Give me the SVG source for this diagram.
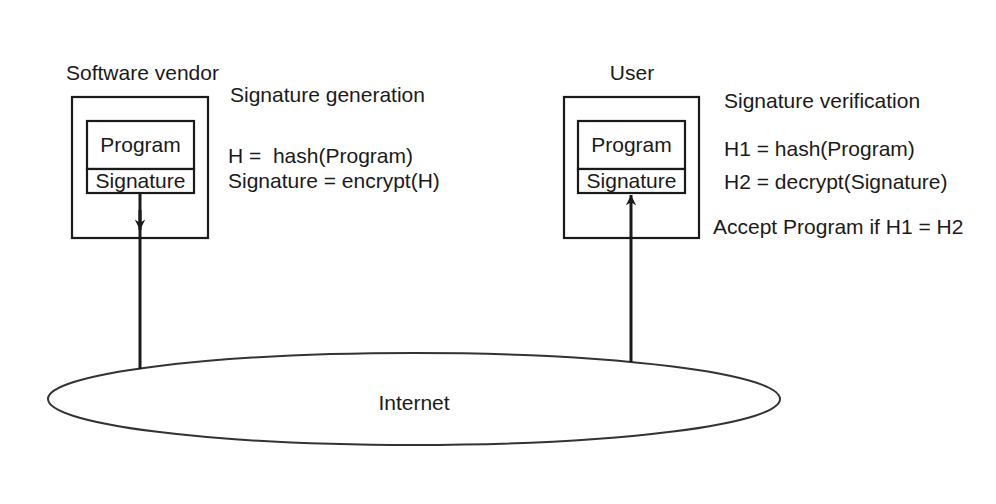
<svg xmlns="http://www.w3.org/2000/svg" width="996" height="504" viewBox="0 0 996 504">
<style>
text{font-family:"Liberation Sans",Arial,sans-serif;font-size:21px;fill:#1a1a1a}
.box{fill:none;stroke:#1a1a1a;stroke-width:2.2}
.in{fill:#fff;stroke:#1a1a1a;stroke-width:2.2}
.c{text-anchor:middle}
.conn{stroke:#1a1a1a;stroke-width:3;fill:none}
</style>
<defs>
<marker id="ah" viewBox="0 0 10 10" refX="10" refY="5" markerWidth="3.8" markerHeight="3.4" orient="auto" markerUnits="strokeWidth">
<path d="M0,0 L10,5 L0,10 L3,5 Z" fill="#1a1a1a"/>
</marker>
</defs>
<rect width="996" height="504" fill="#fff"/>
<g id="internet">
<ellipse cx="414" cy="399" rx="366" ry="46" fill="none" stroke="#333" stroke-width="2"/>
<text x="414" y="410" class="c">Internet</text>
</g>
<g id="vendor">
<text x="66" y="80">Software vendor</text>
<rect x="72" y="97" width="136" height="141" class="box"/>
<rect x="87" y="121" width="107" height="48" class="in"/>
<rect x="87" y="169" width="107" height="24" class="in"/>
<text x="140.5" y="152" class="c">Program</text>
<text x="140.5" y="188" class="c">Signature</text>
</g>
<g id="vendor-text">
<text x="230" y="102">Signature generation</text>
<text x="228" y="163">H = &#160;hash(Program)</text>
<text x="228" y="188">Signature = encrypt(H)</text>
</g>
<g id="user">
<text x="632" y="80" class="c">User</text>
<rect x="564" y="97" width="135" height="141" class="box"/>
<rect x="578" y="121" width="107" height="48" class="in"/>
<rect x="578" y="169" width="107" height="24" class="in"/>
<text x="631.5" y="152" class="c">Program</text>
<text x="631.5" y="188" class="c">Signature</text>
</g>
<g id="user-text">
<text x="724" y="108">Signature verification</text>
<text x="724" y="156">H1 = hash(Program)</text>
<text x="724" y="189">H2 = decrypt(Signature)</text>
<text x="713" y="234">Accept Program if H1 = H2</text>
</g>
<g id="connectors">
<line x1="140" y1="193" x2="140" y2="369" class="conn"/>
<line x1="140" y1="210" x2="140" y2="230" class="conn" marker-end="url(#ah)"/>
<line x1="631" y1="362" x2="631" y2="195" class="conn" marker-end="url(#ah)"/>
</g>
</svg>
